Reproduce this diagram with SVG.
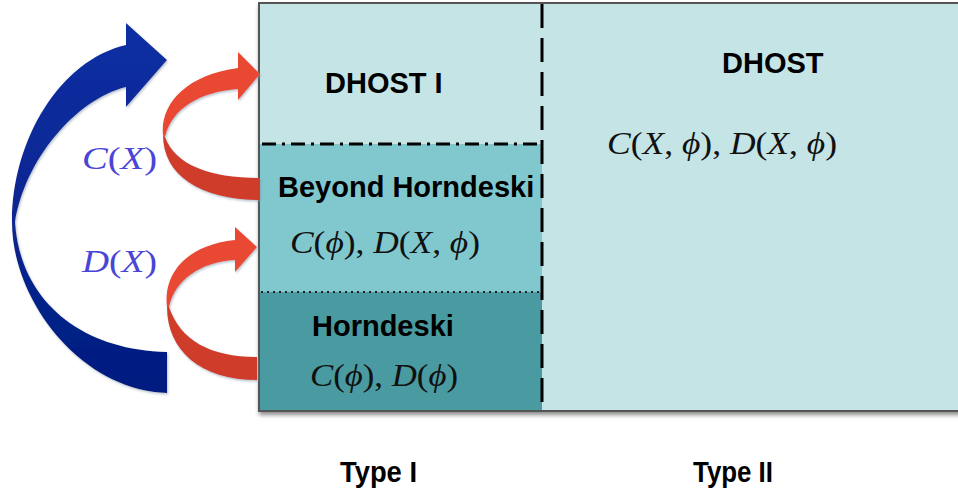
<svg xmlns="http://www.w3.org/2000/svg" width="958" height="496" viewBox="0 0 958 496">
<defs>
<linearGradient id="blueGrad" x1="0" y1="0" x2="0" y2="1">
<stop offset="0" stop-color="#0f2fa3"/>
<stop offset="1" stop-color="#021d80"/>
</linearGradient>
<filter id="shadow" x="-5%" y="-5%" width="110%" height="115%">
<feDropShadow dx="1" dy="3" stdDeviation="2" flood-color="#000" flood-opacity="0.45"/>
</filter>
<filter id="ashadow" x="-10%" y="-10%" width="120%" height="120%">
<feDropShadow dx="1" dy="1.5" stdDeviation="1" flood-color="#8899aa" flood-opacity="0.6"/>
</filter>
</defs>
<style>
.bold{font-family:"Liberation Sans",Arial,sans-serif;font-weight:bold;font-size:29px;fill:#000}
.math{font-family:"Liberation Serif","Times New Roman",serif;font-size:32px;fill:#111}
.it{font-style:italic}
.blue{fill:#4a45d6}
.redF{fill:#e94a30}
.redB{fill:#cf3d29}
</style>
<rect width="958" height="496" fill="#fff"/>

<g id="frame">
<rect x="259" y="3" width="720" height="408" fill="#c5e4e6" stroke="#555" stroke-width="2" filter="url(#shadow)"/>
</g>

<g id="beyond-horndeski">
<rect x="260" y="144" width="282" height="148" fill="#80c8ce"/>
<text class="bold" x="278" y="197">Beyond Horndeski</text>
<text class="math" x="290" y="253" textLength="190" lengthAdjust="spacingAndGlyphs"><tspan class="it">C</tspan>(<tspan class="it">ϕ</tspan>), <tspan class="it">D</tspan>(<tspan class="it">X</tspan>, <tspan class="it">ϕ</tspan>)</text>
</g>

<g id="horndeski">
<rect x="260" y="292" width="282" height="118" fill="#4a9ba1"/>
<text class="bold" x="312" y="336">Horndeski</text>
<text class="math" x="310" y="386" textLength="148" lengthAdjust="spacingAndGlyphs"><tspan class="it">C</tspan>(<tspan class="it">ϕ</tspan>), <tspan class="it">D</tspan>(<tspan class="it">ϕ</tspan>)</text>
</g>

<g id="dhost-i">
<text class="bold" x="325" y="93">DHOST I</text>
</g>

<g id="dhost">
<text class="bold" x="722" y="73">DHOST</text>
<text class="math" x="607" y="154" textLength="230" lengthAdjust="spacingAndGlyphs"><tspan class="it">C</tspan>(<tspan class="it">X</tspan>, <tspan class="it">ϕ</tspan>), <tspan class="it">D</tspan>(<tspan class="it">X</tspan>, <tspan class="it">ϕ</tspan>)</text>
</g>

<g id="dividers" fill="none" stroke="#000">
<line x1="542" y1="4" x2="542" y2="410" stroke-width="3" stroke-dasharray="24 10"/>
<line x1="262" y1="144" x2="540" y2="144" stroke-width="3" stroke-dasharray="14 6 3 6"/>
<line x1="261" y1="292" x2="540" y2="292" stroke-width="2" stroke-dasharray="2 4" stroke="#222"/>
</g>

<g id="type-labels">
<text class="bold" x="340" y="482" textLength="77" lengthAdjust="spacingAndGlyphs">Type I</text>
<text class="bold" x="693" y="482" textLength="80" lengthAdjust="spacingAndGlyphs">Type II</text>
</g>

<g id="connectors">
<path id="blue-arrow" fill="url(#blueGrad)" filter="url(#ashadow)" d="M167,393 C80,390 12,300 12,222 C12,140 60,60 126,45 L126,23 L167,60 L126,107 L126,87 C75,100 25,160 15,222 C20,300 80,350 167,352 Z"/>
<g id="red-arrow-upper" filter="url(#ashadow)">
<path class="redB" d="M163,135 C163,175 200,200 260,200 L260,178 C210,178 175,165 165,137 Z"/>
<path class="redF" d="M163,135 C160,105 185,75 238,68 L238,52 L260,74 L238,100 L238,89 C200,92 172,108 165,137 Z"/>
</g>
<g id="red-arrow-lower" filter="url(#ashadow)">
<path class="redB" d="M167,307 C167,350 200,380 257,380 L257,357 C210,357 180,340 169,307 Z"/>
<path class="redF" d="M167,307 C163,275 185,245 235,240 L235,227 L257,247 L235,272 L235,260 C200,262 175,280 169,307 Z"/>
</g>
<text class="math blue" x="82" y="169" textLength="75" lengthAdjust="spacingAndGlyphs"><tspan class="it">C</tspan>(<tspan class="it">X</tspan>)</text>
<text class="math blue" x="82" y="272" textLength="75" lengthAdjust="spacingAndGlyphs"><tspan class="it">D</tspan>(<tspan class="it">X</tspan>)</text>
</g>
</svg>
